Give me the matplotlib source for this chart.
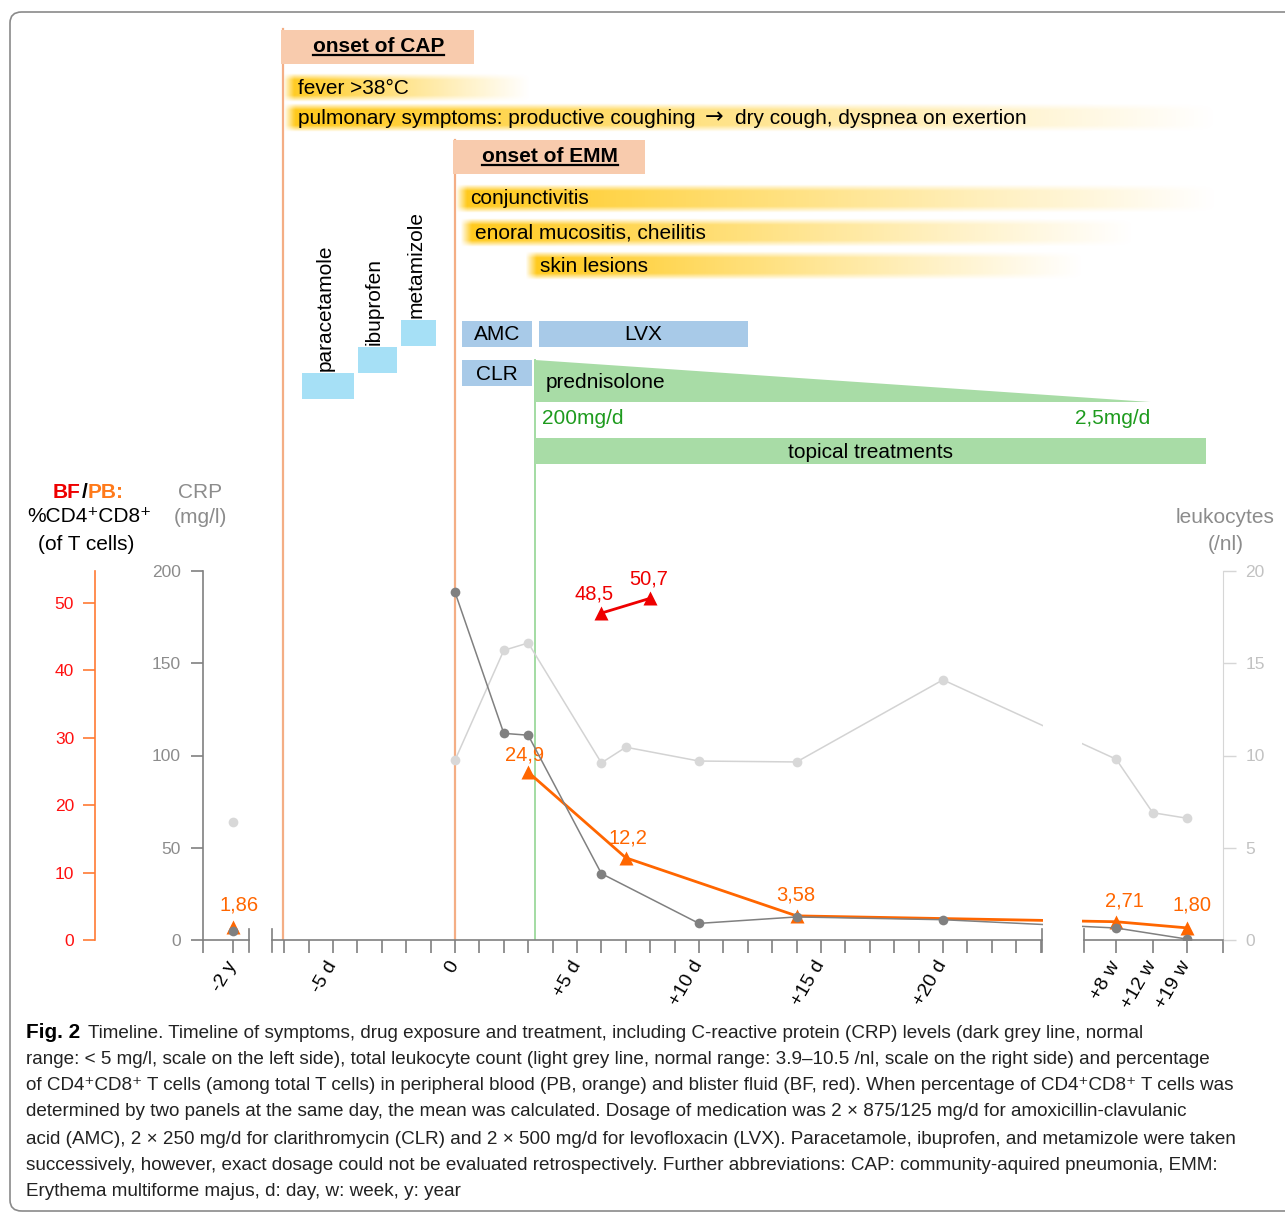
import numpy as np
import matplotlib
matplotlib.use('Agg')
import matplotlib.pyplot as plt
from matplotlib import font_manager
from matplotlib.patches import Rectangle, Polygon, FancyBboxPatch
from matplotlib.lines import Line2D

plt.rcParams['font.family'] = ['Liberation Sans', 'DejaVu Sans']

# ---------------- data ----------------
# time points: numbers = days after onset of EMM, '-2y' / 'Nw' = off-scale slots
crp_t = ['-2y', 0, 2, 3, 6, 10, 14, 20, '8w', '19w']
crp_val = [5, 188.5, 112, 111, 36, 9, 12.5, 11, 6.5, 0.5]

leu_t = ['-2y', 0, 2, 3, 6, 7, 10, 14, 20, '8w', '12w', '19w']
leu_val = [6.4, 9.75, 15.7, 16.1, 9.6, 10.45, 9.7, 9.65, 14.1, 9.8, 6.9, 6.6]

pb_t = ['-2y', 3, 7, 14, '8w', '19w']
pb_val = [1.86, 24.9, 12.2, 3.58, 2.71, 1.80]
pb_lbl = ['1,86', '24,9', '12,2', '3,58', '2,71', '1,80']

bf_t = [6, 8]
bf_val = [48.5, 50.7]
bf_lbl = ['48,5', '50,7']

tick_t = ['-2y', -5, 0, 5, 10, 15, 20, '8w', '12w', '19w']
tick_lbl = ['-2 y', '-5 d', '0', '+5 d', '+10 d', '+15 d', '+20 d', '+8 w', '+12 w', '+19 w']

crp_ticks = [0, 50, 100, 150, 200]
leu_ticks = [0, 5, 10, 15, 20]
cd_ticks = [0, 10, 20, 30, 40, 50]

# timeline (days)
onsets = ['onset of CAP', 'onset of EMM']
onset_day = [-7.05, 0]
onset_box_end = [0.78, 7.79]

symptoms = ['fever >38°C',
            'pulmonary symptoms: productive coughing \u2192 dry cough, dyspnea on exertion',
            'conjunctivitis', 'enoral mucositis, cheilitis', 'skin lesions']
sym_start = [-7.05, -7.05, 0, 0.2, 2.87]
sym_end = [3.1, 31.3, 31.3, 27.9, 25.8]

analgesics = ['paracetamole', 'ibuprofen', 'metamizole']
ana_start = [-6.27, -3.98, -2.21]
ana_end = [-4.14, -2.38, -0.78]

antibiotics = ['AMC', 'LVX', 'CLR']
abx_start = [0.29, 3.44, 0.29]
abx_end = [3.16, 12.0, 3.16]

pred_start, pred_end = 3.28, 28.5
pred_dose = ['200mg/d', '2,5mg/d']
topical_start, topical_end = 3.28, 30.8

caption = [
    'Timeline. Timeline of symptoms, drug exposure and treatment, including C-reactive protein (CRP) levels (dark grey line, normal',
    'range: < 5 mg/l, scale on the left side), total leukocyte count (light grey line, normal range: 3.9\u201310.5 /nl, scale on the right side) and percentage',
    'of CD4\u207aCD8\u207a T cells (among total T cells) in peripheral blood (PB, orange) and blister fluid (BF, red). When percentage of CD4\u207aCD8\u207a T cells was',
    'determined by two panels at the same day, the mean was calculated. Dosage of medication was 2 \u00d7 875/125 mg/d for amoxicillin-clavulanic',
    'acid (AMC), 2 \u00d7 250 mg/d for clarithromycin (CLR) and 2 \u00d7 500 mg/d for levofloxacin (LVX). Paracetamole, ibuprofen, and metamizole were taken',
    'successively, however, exact dosage could not be evaluated retrospectively. Further abbreviations: CAP: community-aquired pneumonia, EMM:',
    'Erythema multiforme majus, d: day, w: week, y: year',
]

# ---------------- layout helpers ----------------
W, H = 1285, 1213
WEEK_SLOT = {8: 27.1, 12: 28.6, 19: 30.0}
XL = (-10.33, 31.48)


def xpos(t):
    if t == '-2y':
        return -9.1
    if isinstance(t, str) and t.endswith('w'):
        return WEEK_SLOT[int(t[:-1])]
    return t


def fx(x):
    return x / W


def fy(y):
    return 1 - y / H


GREY = '#808080'
LGREY = '#d3d3d3'
ORANGE = '#FF6600'
RED = '#EE0000'
ONSET_LINE = '#F4AE85'
SALMON = '#F8CBAD'
CYAN = '#A6E0F6'
BLUE = '#A8CAE8'
GREEN = '#A8DCA6'
DKGREEN = '#1E9B1E'

fig = plt.figure(figsize=(W / 100, H / 100), dpi=100)
r = fig.canvas.get_renderer()

frame = FancyBboxPatch((fx(10), fy(1211)), fx(1300) - fx(10), fy(12) - fy(1211),
                       boxstyle='round,pad=0,rounding_size=0.009',
                       transform=fig.transFigure, fill=False, edgecolor='#8a8a8a', lw=1.2)
fig.add_artist(frame)

# ---------------- timeline axes (x in days, y in pixel rows) ----------------
ax_top = fig.add_axes([fx(203), fy(940), (1223 - 203) / W, (940 - 12) / H])
ax_top.axis('off')
ax_top.set_xlim(*XL)
ax_top.set_ylim(940, 12)


def glow(x0, x1, yc, h=29):
    nx, ny = 400, 40
    t = np.linspace(0, 1, nx)
    a_x = (1 - t) ** 1.05
    a_x *= np.clip(t * (x1 - x0) / 0.45, 0, 1)
    v = np.linspace(-1, 1, ny)
    a_y = np.clip((1 - np.abs(v)) / 0.45, 0, 1)
    rgba = np.zeros((ny, nx, 4))
    rgba[..., 0] = 1.0
    rgba[..., 1] = 0.77
    rgba[..., 2] = 0.02
    rgba[..., 3] = 0.92 * a_y[:, None] * a_x[None, :]
    ax_top.imshow(rgba, extent=[x0, x1, yc + h / 2, yc - h / 2], aspect='auto',
                  interpolation='bilinear', zorder=1)


# onset lines
ax_top.plot([onset_day[0]] * 2, [29, 940], color=ONSET_LINE, lw=1.6, zorder=2)
ax_top.plot([onset_day[1]] * 2, [140, 940], color=ONSET_LINE, lw=1.6, zorder=2)
ax_top.plot([pred_start] * 2, [360, 940], color='#A3DCA3', lw=1.4, zorder=2)

onset_y = [47, 157]
onset_txt = []
for name, d0, d1, yc in zip(onsets, onset_day, onset_box_end, onset_y):
    ax_top.add_patch(Rectangle((d0 - 0.08, yc - 17), d1 - d0 + 0.08, 34, facecolor=SALMON,
                               edgecolor='none', zorder=3))
    onset_txt.append(ax_top.text((d0 + d1) / 2, yc, name, fontsize=15, fontweight='bold',
                                 ha='center', va='center', zorder=4))

sym_y = [88, 118, 199, 233, 266]
for name, d0, d1, yc in zip(symptoms, sym_start, sym_end, sym_y):
    glow(d0, d1, yc)
    parts = name.split(' \u2192 ')
    t0 = ax_top.text(d0 + 0.62, yc, parts[0], fontsize=15, ha='left', va='center', zorder=4)
    if len(parts) > 1:
        # arrow between the two phases of the cough, in a font with a bold arrow
        bb = t0.get_window_extent(r)
        xa = ax_top.transData.inverted().transform((bb.x1 + 9, 0))[0]
        ta = ax_top.text(xa, yc - 1, '\u2192', fontsize=16, family=['DejaVu Sans'],
                         ha='left', va='center', zorder=4)
        bb = ta.get_window_extent(r)
        xb = ax_top.transData.inverted().transform((bb.x1 + 12, 0))[0]
        ax_top.text(xb, yc, parts[1], fontsize=15, ha='left', va='center', zorder=4)

ana_top = [373, 347, 320]
for name, d0, d1, yt in zip(analgesics, ana_start, ana_end, ana_top):
    ax_top.add_patch(Rectangle((d0, yt), d1 - d0, 26, facecolor=CYAN, edgecolor='none', zorder=3))
    ax_top.text((d0 + d1) / 2 - 0.12, yt - 2, name, fontsize=15, rotation=90,
                ha='center', va='bottom', zorder=4)

abx_y = [334, 334, 373]
for name, d0, d1, yc in zip(antibiotics, abx_start, abx_end, abx_y):
    ax_top.add_patch(Rectangle((d0, yc - 13), d1 - d0, 26, facecolor=BLUE, edgecolor='none', zorder=3))
    ax_top.text((d0 + d1) / 2, yc + 1, name, fontsize=15, ha='center', va='center', zorder=4)

ax_top.add_patch(Polygon([(pred_start, 360), (pred_end, 402), (pred_start, 402)], closed=True,
                         facecolor=GREEN, edgecolor='none', zorder=3))
ax_top.text(pred_start + 0.42, 382, 'prednisolone', fontsize=15, ha='left', va='center', zorder=4)
ax_top.text(pred_start + 0.28, 418, pred_dose[0], fontsize=15, color=DKGREEN, ha='left', va='center')
ax_top.text(pred_end, 418, pred_dose[1], fontsize=15, color=DKGREEN, ha='right', va='center')

ax_top.add_patch(Rectangle((topical_start, 438), topical_end - topical_start, 26, facecolor=GREEN,
                           edgecolor='none', zorder=3))
ax_top.text((topical_start + topical_end) / 2, 452, 'topical treatments', fontsize=15,
            ha='center', va='center', zorder=4)

ax_top.set_xlim(*XL)
ax_top.set_ylim(940, 12)

# ---------------- data axes ----------------
ax = fig.add_axes([fx(203), fy(940), (1223 - 203) / W, (940 - 571) / H])
ax.patch.set_visible(False)
ax_cd = ax.twinx()
ax_crp = ax.twinx()

# leukocytes (base axes, right scale)
for s in ['top', 'left', 'bottom']:
    ax.spines[s].set_visible(False)
ax.spines['right'].set_color('#d6d6d6')
ax.yaxis.tick_right()
ax.set_ylim(0, 20)
ax.set_yticks(leu_ticks)
ax.tick_params(axis='y', colors='#d6d6d6', labelcolor='#c2c2c2', length=9, width=1,
               pad=7, labelsize=12.5)

# x axis ticks
day_ticks = list(range(-7, 25))
xt = [XL[0], xpos('-2y')] + day_ticks + [WEEK_SLOT[8], WEEK_SLOT[12], WEEK_SLOT[19], XL[1]]
lbl_map = {xpos(t): l for t, l in zip(tick_t, tick_lbl)}
ax.set_xticks(xt)
ax.set_xticklabels([lbl_map.get(p, '') for p in xt], rotation=60, ha='right', va='center',
                   rotation_mode='anchor', fontsize=14)
ax.tick_params(axis='x', direction='out', length=9, width=1.2, color=GREY, pad=7)
ax.set_xlim(*XL)

# CD4+CD8+ axis (far left, orange)
for s in ['top', 'right', 'bottom']:
    ax_cd.spines[s].set_visible(False)
ax_cd.spines['left'].set_visible(True)
ax_cd.spines['left'].set_position(('axes', (95 - 203) / 1020))
ax_cd.spines['left'].set_color('#FF7A33')
ax_cd.spines['left'].set_linewidth(1.2)
ax_cd.yaxis.set_ticks_position('left')
ax_cd.set_ylim(0, 369 / 6.74)
ax_cd.set_yticks(cd_ticks)
ax_cd.tick_params(axis='y', colors='#FF7A33', labelcolor='#FF1010', length=9, width=1.2,
                  pad=6, labelsize=12.5)

# CRP axis (left, grey)
for s in ['top', 'right', 'bottom']:
    ax_crp.spines[s].set_visible(False)
ax_crp.spines['left'].set_visible(True)
ax_crp.spines['left'].set_color(GREY)
ax_crp.spines['left'].set_linewidth(1.2)
ax_crp.yaxis.set_ticks_position('left')
ax_crp.set_ylim(0, 200)
ax_crp.set_yticks(crp_ticks)
ax_crp.tick_params(axis='y', colors=GREY, labelcolor='#8c8c8c', length=9, width=1.2,
                   pad=7, labelsize=12.5)

# series
lx = [xpos(t) for t in leu_t]
ax.plot(lx[1:], leu_val[1:], color=LGREY, lw=1.1, zorder=2)
ax.plot(lx, leu_val, ls='none', marker='o', ms=7, mfc='#d8d8d8', mec='none', zorder=3)

px_ = [xpos(t) for t in pb_t]
ax_cd.plot(px_[1:], pb_val[1:], color=ORANGE, lw=2, zorder=2)
ax_cd.plot(px_, pb_val, ls='none', marker='^', ms=10, color=ORANGE, mec='none', zorder=3)
pb_off = [(6, 22), (-4, 17), (2, 20), (-1, 21), (8, 21), (5, 23)]
for x, v, l, o in zip(px_, pb_val, pb_lbl, pb_off):
    ax_cd.annotate(l, (x, v), xytext=o, textcoords='offset pixels', ha='center', va='center',
                   color=ORANGE, fontsize=14.5)

bx = [xpos(t) for t in bf_t]
ax_cd.plot(bx, bf_val, color=RED, lw=2, marker='^', ms=10, mec='none', zorder=3)
bf_off = [(-7, 19), (-1, 19)]
for x, v, l, o in zip(bx, bf_val, bf_lbl, bf_off):
    ax_cd.annotate(l, (x, v), xytext=o, textcoords='offset pixels', ha='center', va='center',
                   color=RED, fontsize=14.5)

cx = [xpos(t) for t in crp_t]
ax_crp.plot(cx[1:], crp_val[1:], color=GREY, lw=1.1, zorder=2)
ax_crp.plot(cx, crp_val, ls='none', marker='o', ms=7, mfc=GREY, mec='none', zorder=3)

# axis break: white gap between day and week segments
ax_crp.add_patch(Rectangle((24.12, 0), 25.72 - 24.12, 200, facecolor='white', edgecolor='none',
                           zorder=5))
segments = [(XL[0], -8.44), (-7.5, 24.06), (25.78, XL[1])]
for a, b in segments:
    ax_crp.plot([a, b], [0, 0], color=GREY, lw=1.2, clip_on=False, zorder=6)
for b in [-8.44, -7.5, 24.06, 25.78]:
    ax_crp.plot([b, b], [-12 / 1.845, 11 / 1.845], color=GREY, lw=1.2, clip_on=False, zorder=6)

# ---------------- axis titles ----------------
fig.text(fx(81), fy(492), 'BF', color=RED, fontsize=15, fontweight='bold', ha='right', va='center')
fig.text(fx(84.5), fy(492), '/', color='black', fontsize=15, fontweight='bold', ha='center', va='center')
fig.text(fx(88), fy(492), 'PB:', color='#FF7A1A', fontsize=15, fontweight='bold', ha='left', va='center')
fig.text(fx(89), fy(517), '%CD4\u207aCD8\u207a', fontsize=15, ha='center', va='center')
fig.text(fx(86), fy(544), '(of T cells)', fontsize=15, ha='center', va='center')
fig.text(fx(200), fy(492), 'CRP', color='#8c8c8c', fontsize=15, ha='center', va='center')
fig.text(fx(200), fy(518), '(mg/l)', color='#8c8c8c', fontsize=15, ha='center', va='center')
fig.text(fx(1225), fy(518), 'leukocytes', color='#8c8c8c', fontsize=15, ha='center', va='center')
fig.text(fx(1226), fy(545), '(/nl)', color='#8c8c8c', fontsize=15, ha='center', va='center')

# ---------------- caption ----------------
names = {f.name for f in font_manager.fontManager.ttflist}
if 'Liberation Sans Narrow' in names:
    cap_fam = ['Liberation Sans Narrow', 'DejaVu Sans']
else:
    cap_fam = ['Liberation Sans', 'DejaVu Sans']
probe = fig.text(0, 0, caption[4], fontsize=10, family=cap_fam)
w10 = probe.get_window_extent(r).width
probe.remove()
cap_size = 10 * (1246 - 26) / w10

cap_y = [1033, 1059, 1086, 1112, 1139, 1166, 1192]
fig_lbl = fig.text(fx(26), fy(cap_y[0]), 'Fig. 2', fontsize=cap_size * 1.1, fontweight='bold',
                   family=cap_fam, ha='left', va='center')
wb = fig_lbl.get_window_extent(r).width
for i, (line, yc) in enumerate(zip(caption, cap_y)):
    x0 = 26 + wb + 8 if i == 0 else 26
    fig.text(fx(x0), fy(yc), line, fontsize=cap_size, family=cap_fam, ha='left', va='center',
             color='#222222')

# underline the onset titles
fig.canvas.draw()
for t in onset_txt:
    bb = t.get_window_extent(r)
    yl = bb.y0 + 2
    fig.add_artist(Line2D([bb.x0 / W, bb.x1 / W], [yl / H, yl / H], transform=fig.transFigure,
                          color='black', lw=1.6))

fig.savefig('out.png', dpi=100)
